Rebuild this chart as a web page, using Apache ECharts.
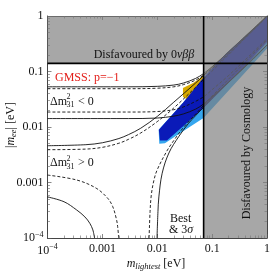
<!DOCTYPE html>
<html><head><meta charset="utf-8">
<script src="https://cdn.jsdelivr.net/npm/echarts@6/dist/echarts.min.js"></script>
<style>html,body{margin:0;padding:0;background:#fff}#c{width:273px;height:274px}</style>
</head><body><div id="c"></div>
<script>
// ---- data (eV) ----
const majorTicks = [1e-4, 1e-3, 1e-2, 1e-1, 1];
const tickLabels = ['10{sup|−4}', '0.001', '0.01', '0.1', '1'];
const minorTicks = [2e-4,3e-4,4e-4,5e-4,6e-4,7e-4,8e-4,9e-4,
  0.002,0.003,0.004,0.005,0.006,0.007,0.008,0.009,
  0.02,0.03,0.04,0.05,0.06,0.07,0.08,0.09,
  0.2,0.3,0.4,0.5,0.6,0.7,0.8,0.9];
const cosmoBound = 0.07;   // m_lightest bound
const bbBound = 0.14;      // |m_ee| bound

// Inverted ordering (Δm²31<0)
const ihUpper3s  = [[1e-4,0.053],[0.003,0.053],[0.01,0.054],[0.02,0.057],[0.03,0.062],[0.05,0.075],[0.07,0.092],[0.1,0.122],[0.2,0.225],[0.5,0.52],[1,1.0]];
const ihUpperBf  = [[1e-4,0.049],[0.003,0.049],[0.01,0.05],[0.02,0.053],[0.03,0.058],[0.05,0.07],[0.07,0.086],[0.1,0.113],[0.2,0.21],[0.5,0.5],[1,0.98]];
const ihLowerBf  = [[1e-4,0.0186],[0.003,0.0186],[0.01,0.019],[0.02,0.0205],[0.03,0.023],[0.05,0.029],[0.07,0.035],[0.1,0.047],[0.2,0.085],[0.5,0.2],[1,0.39]];
const ihLower3s  = [[1e-4,0.0142],[0.003,0.0142],[0.01,0.0145],[0.02,0.0157],[0.03,0.0172],[0.05,0.021],[0.07,0.026],[0.1,0.035],[0.2,0.064],[0.5,0.15],[1,0.3]];
// Normal ordering (Δm²31>0)
const nhUpper3s  = [[1e-4,0.0046],[0.0005,0.0048],[0.001,0.0052],[0.002,0.0062],[0.003,0.0073],[0.005,0.0095],[0.01,0.0155],[0.02,0.028],[0.05,0.062],[0.1,0.118],[0.3,0.33],[1,1.0]];
const nhUpperBf  = [[1e-4,0.0039],[0.0005,0.004],[0.001,0.0043],[0.002,0.0051],[0.003,0.006],[0.005,0.0078],[0.01,0.0125],[0.02,0.022],[0.05,0.052],[0.1,0.102],[0.3,0.3],[1,0.98]];
const nhLowerBfA = [[1e-4,0.00136],[0.00034,0.00111],[0.00077,0.00079],[0.00125,0.00052],[0.00154,0.00037],[0.0018,0.00022],[0.0019,0.00016],[0.00198,0.0001]];
const nhLowerBfB = [[0.0071,0.0001],[0.0074,0.0003],[0.0078,0.0006],[0.0087,0.0011],[0.01,0.0017],[0.015,0.0037],[0.02,0.0057],[0.03,0.0098],[0.05,0.017],[0.1,0.036],[0.3,0.11],[1,0.37]];
const nhLower3sA = [[1e-4,0.00055],[0.0002,0.00045],[0.00034,0.00032],[0.00048,0.00024],[0.00059,0.000184],[0.00067,0.00014],[0.00072,0.0001]];
const nhLower3sB = [[0.0099,0.0001],[0.0103,0.0003],[0.0107,0.00055],[0.0123,0.00147],[0.0163,0.0034],[0.0246,0.0067],[0.0373,0.0117],[0.05,0.016],[0.1,0.033],[0.3,0.095],[1,0.3]];

// GMSS p = -1 regions
const gmssLight = [[0.0106,0.0089],[0.03,0.028],[0.065,0.072],[0.18,0.21],[0.6,0.62],[1,0.97],[1,0.26],[0.37,0.088],[0.0697,0.0145],[0.03,0.0085],[0.0138,0.0051],[0.0109,0.005]];
const gmssDark  = [[0.0107,0.0089],[0.03,0.028],[0.065,0.072],[0.18,0.21],[0.6,0.62],[1,0.97],[1,0.34],[0.37,0.116],[0.0697,0.022],[0.03,0.0104],[0.015,0.0057],[0.0112,0.0057]];
const gmssGold  = [[0.0294,0.0504],[0.045,0.062],[0.065,0.08],[0.0697,0.09],[0.0697,0.062],[0.0373,0.0306],[0.0294,0.0347]];

// excluded regions
const bbRegion = [[1e-4,bbBound],[1,bbBound],[1,1],[1e-4,1]];
const cosmoRegion = [[cosmoBound,1e-4],[1,1e-4],[1,bbBound],[cosmoBound,bbBound]];

// ---- chart ----
const FF = '"Liberation Serif","DejaVu Serif",serif';
const chart = echarts.init(document.getElementById('c'), null, {renderer:'canvas'});

function polySeries(pts, fill, z, stroke) {
  return {
    type:'custom', coordinateSystem:'cartesian2d', z:z, clip:true, silent:true,
    data:[pts[0]],
    renderItem:function(params, api){
      const P = pts.map(p => api.coord(p));
      return {type:'polygon', shape:{points:P}, style:{fill:fill, stroke:stroke||'none', lineWidth:stroke?0.6:0}};
    }
  };
}
function lineSeries(pts, dashed, z, color, width) {
  return {
    type:'line', data:pts, showSymbol:false, symbol:'none', smooth:0.35, z:z, clip:true, silent:true,
    lineStyle:{color:color||'#111', width:width||0.9, type: dashed ? [3,2] : 'solid'}
  };
}
function labelFmt(v){
  for (let i=0;i<majorTicks.length;i++){ if (Math.abs(Math.log10(v)-Math.log10(majorTicks[i]))<0.01) return tickLabels[i]; }
  return '';
}
const labelRich = {sup:{fontSize:8, verticalAlign:'top', padding:[0,0,7,0], fontFamily:FF, color:'#111'}};

const baseAxis = {
  type:'log', logBase:10, min:1e-4, max:1,
  axisLine:{show:true, onZero:false, lineStyle:{color:'#444', width:1}},
  axisTick:{show:true, inside:true, length:4, lineStyle:{color:'#555', width:0.7}, customValues:majorTicks},
  splitLine:{show:false}, minorTick:{show:false}, minorSplitLine:{show:false}
};

const option = {
  animation:false,
  backgroundColor:'#fff',
  grid:{left:47.5, right:4, top:16, bottom:36, containLabel:false},
  xAxis:[
    Object.assign({}, baseAxis, {position:'bottom', axisLabel:{show:true, margin:5, fontFamily:FF, fontSize:12, color:'#111', formatter:labelFmt, customValues:majorTicks, rich:labelRich, hideOverlap:false}}),
    Object.assign({}, baseAxis, {position:'bottom', axisLine:{show:false}, axisLabel:{show:false}, axisTick:{show:true, inside:true, length:2.5, lineStyle:{color:'#666', width:0.6}, customValues:minorTicks}}),
    Object.assign({}, baseAxis, {position:'top', axisLabel:{show:false}}),
    Object.assign({}, baseAxis, {position:'top', axisLine:{show:false}, axisLabel:{show:false}, axisTick:{show:true, inside:true, length:2.5, lineStyle:{color:'#666', width:0.6}, customValues:minorTicks}})
  ],
  yAxis:[
    Object.assign({}, baseAxis, {position:'left', axisLabel:{show:true, margin:4, fontFamily:FF, fontSize:12, color:'#111', formatter:labelFmt, customValues:majorTicks, rich:labelRich, hideOverlap:false}}),
    Object.assign({}, baseAxis, {position:'left', axisLine:{show:false}, axisLabel:{show:false}, axisTick:{show:true, inside:true, length:2.5, lineStyle:{color:'#666', width:0.6}, customValues:minorTicks}}),
    Object.assign({}, baseAxis, {position:'right', axisLabel:{show:false}}),
    Object.assign({}, baseAxis, {position:'right', axisLine:{show:false}, axisLabel:{show:false}, axisTick:{show:true, inside:true, length:2.5, lineStyle:{color:'#666', width:0.6}, customValues:minorTicks}})
  ],
  series:[
    polySeries(gmssLight, '#35a6ee', 1),
    polySeries(gmssGold, '#d7a900', 2),
    polySeries(gmssDark, '#0a1ab8', 3),
    lineSeries(ihUpper3s, false, 5),
    lineSeries(ihUpperBf, true, 5),
    lineSeries(ihLowerBf, true, 5),
    lineSeries(ihLower3s, false, 5),
    lineSeries(nhUpper3s, false, 5),
    lineSeries(nhUpperBf, true, 5),
    lineSeries(nhLowerBfA, true, 5),
    lineSeries(nhLowerBfB, true, 5),
    lineSeries(nhLower3sA, false, 5),
    lineSeries(nhLower3sB, false, 5),
    polySeries(bbRegion, 'rgba(125,125,125,0.68)', 8),
    polySeries(cosmoRegion, 'rgba(125,125,125,0.68)', 8),
    lineSeries([[1e-4,bbBound],[1,bbBound]], false, 9, '#000', 1.6),
    lineSeries([[cosmoBound,1e-4],[cosmoBound,1]], false, 9, '#000', 1.6)
  ],
  graphic:[
    {type:'text', x:144, y:55, z:20, style:{text:'Disfavoured by 0{i|νββ}', font:'12px '+FF, fill:'#111', align:'center', verticalAlign:'middle', textAlign:'center', textVerticalAlign:'middle',
      rich:{i:{fontStyle:'italic', fontFamily:FF, fontSize:12, fill:'#111'}}}},
    {type:'text', x:247, y:153, z:20, rotation:Math.PI/2, style:{text:'Disfavoured by Cosmology', font:'12px '+FF, fill:'#111', align:'center', verticalAlign:'middle', textAlign:'center', textVerticalAlign:'middle'}},
    {type:'text', x:55, y:78, z:20, style:{text:'GMSS: p=−1', font:'12px '+FF, fill:'#e3201b', align:'left', verticalAlign:'middle', textAlign:'left', textVerticalAlign:'middle'}},
    {type:'group', x:50, y:101.5, z:20, children:[
      {type:'text', x:0, y:0, style:{text:'Δm', font:'12px '+FF, fill:'#111', align:'left', verticalAlign:'middle', textAlign:'left', textVerticalAlign:'middle'}},
      {type:'text', x:16.5, y:-4.5, style:{text:'2', font:'8px '+FF, fill:'#111', align:'left', verticalAlign:'middle', textAlign:'left', textVerticalAlign:'middle'}},
      {type:'text', x:16.5, y:3.5, style:{text:'31', font:'8px '+FF, fill:'#111', align:'left', verticalAlign:'middle', textAlign:'left', textVerticalAlign:'middle'}},
      {type:'text', x:28, y:0, style:{text:'< 0', font:'12px '+FF, fill:'#111', align:'left', verticalAlign:'middle', textAlign:'left', textVerticalAlign:'middle'}}
    ]},
    {type:'group', x:50, y:163, z:20, children:[
      {type:'text', x:0, y:0, style:{text:'Δm', font:'12px '+FF, fill:'#111', align:'left', verticalAlign:'middle', textAlign:'left', textVerticalAlign:'middle'}},
      {type:'text', x:16.5, y:-4.5, style:{text:'2', font:'8px '+FF, fill:'#111', align:'left', verticalAlign:'middle', textAlign:'left', textVerticalAlign:'middle'}},
      {type:'text', x:16.5, y:3.5, style:{text:'31', font:'8px '+FF, fill:'#111', align:'left', verticalAlign:'middle', textAlign:'left', textVerticalAlign:'middle'}},
      {type:'text', x:28, y:0, style:{text:'> 0', font:'12px '+FF, fill:'#111', align:'left', verticalAlign:'middle', textAlign:'left', textVerticalAlign:'middle'}}
    ]},
    {type:'text', x:170, y:219, z:20, style:{text:'Best', font:'12px '+FF, fill:'#111', align:'left', verticalAlign:'middle', textAlign:'left', textVerticalAlign:'middle'}},
    {type:'text', x:169, y:230, z:20, style:{text:'& 3{i|σ}', font:'12px '+FF, fill:'#111', align:'left', verticalAlign:'middle', textAlign:'left', textVerticalAlign:'middle',
      rich:{i:{fontStyle:'italic', fontFamily:FF, fontSize:12, fill:'#111'}}}},
    {type:'text', x:156, y:264, z:20, style:{text:'{i|m}{s|lightest} [eV]', font:'12px '+FF, fill:'#111', align:'center', verticalAlign:'middle', textAlign:'center', textVerticalAlign:'middle',
      rich:{i:{fontStyle:'italic', fontFamily:FF, fontSize:12, fill:'#111'}, s:{fontStyle:'italic', fontFamily:FF, fontSize:8.5, fill:'#111', padding:[5,0,0,0]}}}},
    {type:'text', x:11, y:125, z:20, rotation:Math.PI/2, style:{text:'|{i|m}{s|ee}| [eV]', font:'12px '+FF, fill:'#111', align:'center', verticalAlign:'middle', textAlign:'center', textVerticalAlign:'middle',
      rich:{i:{fontStyle:'italic', fontFamily:FF, fontSize:12, fill:'#111'}, s:{fontStyle:'italic', fontFamily:FF, fontSize:8.5, fill:'#111', padding:[5,0,0,0]}}}}
  ]
};
chart.setOption(option);
</script></body></html>
